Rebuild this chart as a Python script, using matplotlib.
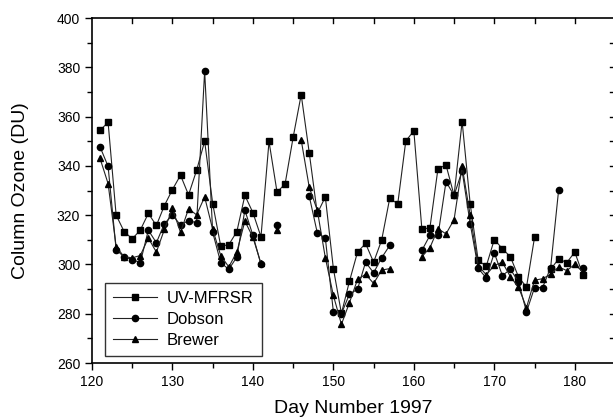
import numpy as np
import matplotlib
matplotlib.use("Agg")
import matplotlib.pyplot as plt
from matplotlib.ticker import MultipleLocator

nan = np.nan
days = list(range(121, 182))

uv_mfrsr = [354.4, 357.7, 320.0, 313.3, 310.4, 313.9, 320.7, 315.8, 323.9, 330.4,
            336.2, 328.2, 338.2, 350.0, 324.7, 307.4, 308.0, 313.3, 328.0, 321.0,
            311.2, 349.9, 329.3, 332.7, 351.6, 368.9, 345.3, 320.7, 327.4, 298.3,
            280.1, 293.2, 305.0, 308.5, 300.9, 309.9, 326.8, 324.6, 350.1, 354.2,
            314.2, 314.9, 338.9, 340.3, 328.0, 358.0, 324.6, 301.6, 299.3, 310.1,
            306.4, 303.1, 295.0, 290.8, 311.0, nan, 298.0, 302.3, 300.7, 305.0,
            295.9]

dobson = [347.7, 339.8, 306.0, 303.0, 302.0, 300.7, 313.9, 308.8, 316.6, 320.0,
          316.0, 317.8, 316.9, 378.5, 313.0, 300.7, 298.0, 303.0, 322.0, 311.8,
          300.0, nan, 316.2, nan, nan, nan, 327.7, 312.8, 310.7, 280.7,
          280.0, 288.0, 289.9, 300.9, 296.6, 302.7, 307.7, nan, nan, nan,
          305.7, 311.8, 311.8, 333.6, 328.0, 338.0, 316.6, 298.4, 294.5, 304.7,
          295.5, 298.0, 293.0, 280.7, 290.6, 290.6, 298.7, 330.4, nan, nan,
          298.7]

brewer = [343.0, 332.8, 307.2, 303.1, 302.7, 303.6, 310.7, 305.0, 314.2, 322.7,
          313.0, 322.6, 320.1, 327.4, 314.2, 303.6, 299.0, 305.0, 317.6, 311.0,
          300.4, nan, 314.0, nan, nan, 350.5, 331.3, 322.0, 302.7, 287.4,
          275.7, 284.5, 293.9, 296.0, 292.3, 297.7, 298.3, nan, nan, nan,
          303.1, 306.8, 314.5, 312.4, 318.2, 339.8, 320.0, 299.5, 295.8, 299.6,
          300.9, 295.0, 290.8, 282.5, 293.6, 294.2, 296.0, 299.0, 297.5, 300.0,
          297.0]

series_names = ["UV-MFRSR", "Dobson", "Brewer"]

plt.rcParams['font.family'] = ['Liberation Sans', 'DejaVu Sans']

W, H = 613, 419
fig = plt.figure(figsize=(W / 100, H / 100), dpi=100)
left, right, top, bottom = 92, 615, 18, 363
ax = fig.add_axes([left / W, 1 - bottom / H, (right - left) / W, (bottom - top) / H])

lw = 0.8
col = '#222222'
ax.plot(days, uv_mfrsr, '-s', color=col, lw=lw, ms=4.5, mfc='black', mec='black', label=series_names[0])
ax.plot(days, dobson, '-o', color=col, lw=lw, ms=4.5, mfc='black', mec='black', label=series_names[1])
ax.plot(days, brewer, '-^', color=col, lw=lw, ms=4.5, mfc='black', mec='black', label=series_names[2])

ax.set_xlim(120, 185)
ax.set_ylim(260, 400)
ax.xaxis.set_major_locator(MultipleLocator(10))
ax.xaxis.set_minor_locator(MultipleLocator(5))
ax.yaxis.set_major_locator(MultipleLocator(20))
ax.yaxis.set_minor_locator(MultipleLocator(10))
ax.tick_params(which='both', direction='out', labelsize=10, width=1)
ax.tick_params(which='major', length=5)
ax.tick_params(which='minor', length=3.5)
# inward ticks on top and right
for x in np.arange(125, 185, 5):
    ax.plot([x, x], [400, 400 - 5 * 140 / 345], color='black', lw=1, clip_on=False)
for y in np.arange(270, 400, 10):
    ax.plot([185 - 5 * 65 / 523, 185], [y, y], color='black', lw=1, clip_on=False)
for sp in ax.spines.values():
    sp.set_linewidth(1.2)

ax.set_xlabel("Day Number 1997", fontsize=14, labelpad=8)
ax.set_ylabel("Column Ozone (DU)", fontsize=14, labelpad=20)

leg = ax.legend(loc='lower left', bbox_to_anchor=(13 / 523, 7 / 345), fontsize=12, frameon=True,
                fancybox=False, edgecolor='black', handlelength=2.6, handletextpad=0.6,
                borderaxespad=0.0, labelspacing=0.35, borderpad=0.5)
leg.get_frame().set_linewidth(1.0)

fig.savefig("out.png", dpi=100)
